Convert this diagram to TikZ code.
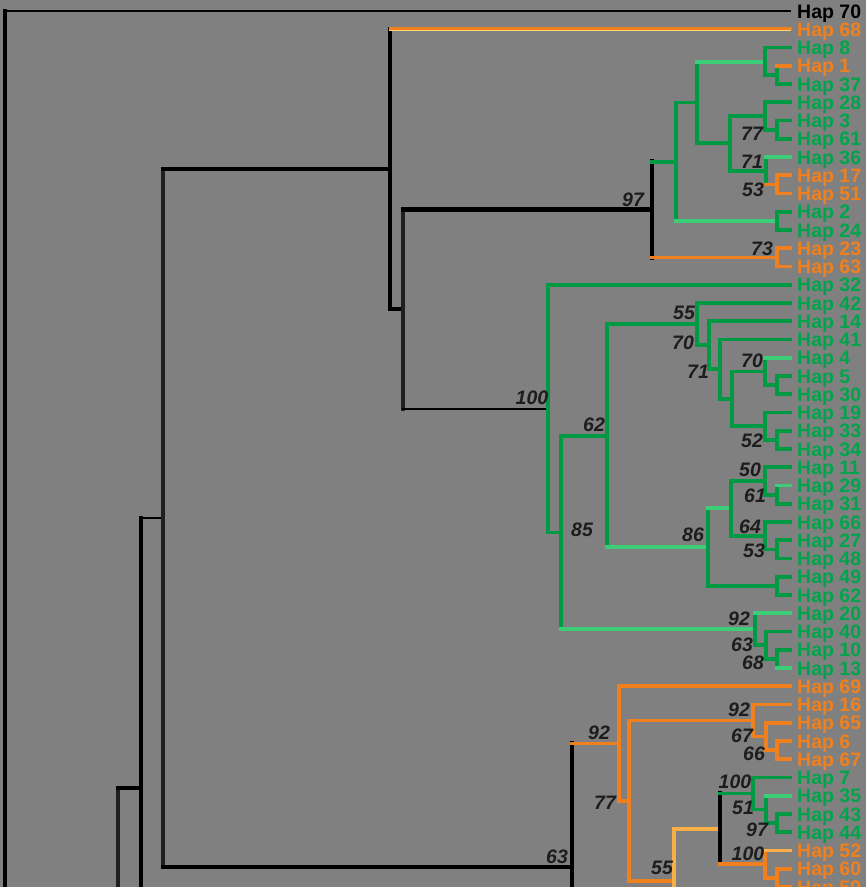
\documentclass[tikz,border=0pt]{standalone}
\usepackage{fontspec}
\setmainfont{Liberation Sans}
\definecolor{bg}{RGB}{128,128,128}
\definecolor{gr}{RGB}{0,154,68}
\definecolor{lgr}{RGB}{60,205,120}
\definecolor{grt}{RGB}{0,165,75}
\definecolor{orn}{RGB}{240,128,30}
\definecolor{lorn}{RGB}{250,175,70}
\definecolor{ylw}{RGB}{255,215,110}
\definecolor{bs}{RGB}{30,28,28}
\newcommand\hbr[3]{\draw[#3] (#1 |- #2) -- (#2);}
\newcommand\vbr[4]{\draw[#4] (#1 |- #2) -- (#1 |- #3);}
\begin{document}
\begin{tikzpicture}[x=1pt,y=-1pt,
  line cap=rect,
  blk/.style={draw=black,line width=4.5pt},
  bthin/.style={draw=black,line width=2.2pt},
  bmid/.style={draw=black!88,line width=4.2pt},
  g/.style={draw=gr,line width=3.8pt},
  lg/.style={draw=lgr,line width=3.8pt},
  o/.style={draw=orn,line width=3.8pt},
  lo/.style={draw=lorn,line width=3.8pt},
  hap/.style={anchor=base west,inner sep=0pt,font=\fontsize{19.5}{19.5}\selectfont\bfseries},
  bsl/.style={inner sep=0pt,text=bs,font=\fontsize{19.5}{19.5}\selectfont\bfseries\itshape}]
\fill[bg] (0,0) rectangle (866,887);
\useasboundingbox (0,0) rectangle (866,887);
\clip (0,0) rectangle (866,887);
\coordinate (bot) at (0,1000);
% leaves
\foreach \i/\t/\c in {0/70/black,1/68/orn,2/8/grt,3/1/orn,4/37/grt,5/28/grt,6/3/grt,7/61/grt,8/36/grt,9/17/orn,10/51/orn,11/2/grt,12/24/grt,13/23/orn,14/63/orn,15/32/grt,16/42/grt,17/14/grt,18/41/grt,19/4/grt,20/5/grt,21/30/grt,22/19/grt,23/33/grt,24/34/grt,25/11/grt,26/29/grt,27/31/grt,28/66/grt,29/27/grt,30/48/grt,31/49/grt,32/62/grt,33/20/grt,34/40/grt,35/10/grt,36/13/grt,37/69/orn,38/16/orn,39/65/orn,40/6/orn,41/67/orn,42/7/grt,43/35/grt,44/43/grt,45/44/grt,46/52/orn,47/60/orn,48/59/orn}{
  \coordinate (L\i) at (790,{11+18.25*\i});
  \node[hap,text=\c] (T\i) at (797,{18+18.25*\i}) {Hap \t};
}
% internal nodes
\coordinate (root) at (5,11);
\coordinate (n118) at (118,788);
\coordinate (n141) at (141,788);
\coordinate (n163) at (163,518);
\coordinate (n390) at (390,169.1);
\coordinate (n403) at (403,309);
\coordinate (n652) at (652,209.5);
\coordinate (n676) at (676,161.7);
\coordinate (n697) at (697,102.5);
\coordinate (a2) at (765,61.6);
\coordinate (b1) at (777,75.1);
\coordinate (n730) at (730,143.3);
\coordinate (a3) at (765,115.9);
\coordinate (b2) at (777,129.6);
\coordinate (a4) at (766,170.7);
\coordinate (b3) at (777,184.4);
\coordinate (b4) at (777,220.9);
\coordinate (b5) at (777,257.4);
\coordinate (n548) at (548,408.6);
\coordinate (n561) at (561,532.4);
\coordinate (n607) at (607,435.6);
\coordinate (n697b) at (697,324.1);
\coordinate (n709) at (709,345.2);
\coordinate (n720) at (720,369.2);
\coordinate (n732) at (732,398.8);
\coordinate (a5) at (765,371.4);
\coordinate (b6) at (777,385.1);
\coordinate (a6) at (765,426.2);
\coordinate (b7) at (777,439.9);
\coordinate (n708) at (708,547.1);
\coordinate (n731) at (731,508.3);
\coordinate (a7) at (765,480.9);
\coordinate (b8) at (777,494.6);
\coordinate (a8) at (765,535.7);
\coordinate (b9) at (777,549.4);
\coordinate (b10) at (777,585.9);
\coordinate (n755) at (755,629.2);
\coordinate (a9) at (766,645.2);
\coordinate (b11) at (777,658.9);
\coordinate (n572) at (572,867);
\coordinate (n619) at (619,743.5);
\coordinate (n629) at (629,800.7);
\coordinate (n753) at (753,720.5);
\coordinate (a10) at (766,736.4);
\coordinate (b12) at (777,750.1);
\coordinate (n674) at (674,880.9);
\coordinate (n720b) at (720,828.8);
\coordinate (n753b) at (753,793.5);
\coordinate (a11) at (766,809.4);
\coordinate (b13) at (777,823.1);
\coordinate (a12) at (765,864.2);
\coordinate (b14) at (777,877.9);
% root part
\hbr{root}{L0}{bthin}
\vbr{root}{root}{bot}{blk}
\vbr{n118}{n118}{bot}{bmid}
\draw[blk] (n118) -- (n141);
\vbr{n141}{n163}{bot}{blk}
\hbr{n141}{n163}{bthin}
\vbr{n163}{n390}{n572}{bmid}
\hbr{n163}{n390}{blk}
\hbr{n163}{n572}{blk}
\vbr{n390}{L1}{n403}{blk}
\draw[ylw,line width=1.6pt] ([yshift=-1.4pt]n390 |- L1) -- ([yshift=-1.4pt]L1);
\draw[orn,line width=3pt] ([yshift=0.8pt]n390 |- L1) -- ([yshift=0.8pt]L1);
\hbr{n390}{n403}{blk}
\vbr{n403}{n652}{n548}{bmid}
\hbr{n403}{n652}{blk}
\hbr{n403}{n548}{bthin}
% upper clade
\vbr{n652}{n676}{b5}{blk}
\hbr{n652}{n676}{g}
\hbr{n652}{b5}{o}
\vbr{n676}{n697}{b4}{g}
\hbr{n676}{n697}{g}
\hbr{n676}{b4}{lg}
\vbr{n697}{a2}{n730}{g}
\hbr{n697}{a2}{lg}
\hbr{n697}{n730}{g}
\vbr{a2}{L2}{b1}{g}
\hbr{a2}{L2}{g}
\hbr{a2}{b1}{g}
\vbr{b1}{L3}{L4}{g}
\hbr{b1}{L3}{o}
\hbr{b1}{L4}{g}
\vbr{n730}{a3}{a4}{g}
\hbr{n730}{a3}{g}
\hbr{n730}{a4}{g}
\vbr{a3}{L5}{b2}{g}
\hbr{a3}{L5}{g}
\hbr{a3}{b2}{g}
\vbr{b2}{L6}{L7}{g}
\hbr{b2}{L6}{g}
\hbr{b2}{L7}{g}
\vbr{a4}{L8}{b3}{g}
\hbr{a4}{L8}{lg}
\hbr{a4}{b3}{o}
\vbr{b3}{L9}{L10}{o}
\hbr{b3}{L9}{o}
\hbr{b3}{L10}{o}
\vbr{b4}{L11}{L12}{g}
\hbr{b4}{L11}{g}
\hbr{b4}{L12}{g}
\vbr{b5}{L13}{L14}{o}
\hbr{b5}{L13}{o}
\hbr{b5}{L14}{o}
% green clade
\vbr{n548}{L15}{n561}{g}
\hbr{n548}{L15}{g}
\hbr{n548}{n561}{g}
\vbr{n561}{n607}{n755}{g}
\hbr{n561}{n607}{g}
\hbr{n561}{n755}{lg}
\vbr{n607}{n697b}{n708}{g}
\hbr{n607}{n697b}{g}
\hbr{n607}{n708}{lg}
\vbr{n697b}{L16}{n709}{g}
\hbr{n697b}{L16}{g}
\hbr{n697b}{n709}{g}
\vbr{n709}{L17}{n720}{g}
\hbr{n709}{L17}{g}
\hbr{n709}{n720}{g}
\vbr{n720}{L18}{n732}{g}
\hbr{n720}{L18}{g}
\hbr{n720}{n732}{g}
\vbr{n732}{a5}{a6}{g}
\hbr{n732}{a5}{g}
\hbr{n732}{a6}{g}
\vbr{a5}{L19}{b6}{g}
\hbr{a5}{L19}{lg}
\hbr{a5}{b6}{g}
\vbr{b6}{L20}{L21}{g}
\hbr{b6}{L20}{g}
\hbr{b6}{L21}{g}
\vbr{a6}{L22}{b7}{g}
\hbr{a6}{L22}{g}
\hbr{a6}{b7}{g}
\vbr{b7}{L23}{L24}{g}
\hbr{b7}{L23}{g}
\hbr{b7}{L24}{g}
\vbr{n708}{n731}{b10}{g}
\hbr{n708}{n731}{lg}
\hbr{n708}{b10}{g}
\vbr{n731}{a7}{a8}{g}
\hbr{n731}{a7}{g}
\hbr{n731}{a8}{g}
\vbr{a7}{L25}{b8}{g}
\hbr{a7}{L25}{g}
\hbr{a7}{b8}{g}
\vbr{b8}{L26}{L27}{g}
\hbr{b8}{L26}{lg}
\hbr{b8}{L27}{g}
\vbr{a8}{L28}{b9}{g}
\hbr{a8}{L28}{g}
\hbr{a8}{b9}{g}
\vbr{b9}{L29}{L30}{g}
\hbr{b9}{L29}{g}
\hbr{b9}{L30}{g}
\vbr{b10}{L31}{L32}{g}
\hbr{b10}{L31}{g}
\hbr{b10}{L32}{g}
\vbr{n755}{L33}{a9}{g}
\hbr{n755}{L33}{lg}
\hbr{n755}{a9}{g}
\vbr{a9}{L34}{b11}{g}
\hbr{a9}{L34}{g}
\hbr{a9}{b11}{g}
\vbr{b11}{L35}{L36}{g}
\hbr{b11}{L35}{g}
\hbr{b11}{L36}{lg}
% bottom clade
\vbr{n572}{n619}{bot}{blk}
\hbr{n572}{n619}{o}
\vbr{n619}{L37}{n629}{o}
\hbr{n619}{L37}{o}
\hbr{n619}{n629}{o}
\vbr{n629}{n753}{n674}{o}
\hbr{n629}{n753}{o}
\hbr{n629}{n674}{o}
\vbr{n753}{L38}{a10}{o}
\hbr{n753}{L38}{o}
\hbr{n753}{a10}{o}
\vbr{a10}{L39}{b12}{o}
\hbr{a10}{L39}{o}
\hbr{a10}{b12}{o}
\vbr{b12}{L40}{L41}{o}
\hbr{b12}{L40}{o}
\hbr{b12}{L41}{o}
\vbr{n674}{n720b}{bot}{lo}
\hbr{n674}{n720b}{lo}
\vbr{n720b}{n753b}{a12}{blk}
\hbr{n720b}{n753b}{g}
\hbr{n720b}{a12}{o}
\vbr{n753b}{L42}{a11}{g}
\hbr{n753b}{L42}{g}
\hbr{n753b}{a11}{g}
\vbr{a11}{L43}{b13}{g}
\hbr{a11}{L43}{lg}
\hbr{a11}{b13}{g}
\vbr{b13}{L44}{L45}{g}
\hbr{b13}{L44}{g}
\hbr{b13}{L45}{g}
\vbr{a12}{L46}{b14}{o}
\hbr{a12}{L46}{lo}
\hbr{a12}{b14}{o}
\vbr{b14}{L47}{L48}{o}
\hbr{b14}{L47}{o}
\hbr{b14}{L48}{o}
% bootstrap values
\node[bsl] (s1) at (752,134) {77};
\node[bsl] (s2) at (752,162) {71};
\node[bsl] (s3) at (753,190) {53};
\node[bsl] (s4) at (762,249) {73};
\node[bsl] (s5) at (633,200) {97};
\node[bsl] (s6) at (532,398) {100};
\node[bsl] (s7) at (684,313) {55};
\node[bsl] (s8) at (683,343) {70};
\node[bsl] (s9) at (698,372) {71};
\node[bsl] (s10) at (594,425) {62};
\node[bsl] (s11) at (582,530) {85};
\node[bsl] (s12) at (693,535) {86};
\node[bsl] (s13) at (752,361) {70};
\node[bsl] (s14) at (752,441) {52};
\node[bsl] (s15) at (750,470) {50};
\node[bsl] (s16) at (755,496) {61};
\node[bsl] (s17) at (750,527) {64};
\node[bsl] (s18) at (754,551) {53};
\node[bsl] (s19) at (739,619) {92};
\node[bsl] (s20) at (742,645) {63};
\node[bsl] (s21) at (753,663) {68};
\node[bsl] (s22) at (739,710) {92};
\node[bsl] (s23) at (742,736) {67};
\node[bsl] (s24) at (754,754) {66};
\node[bsl] (s25) at (735,782) {100};
\node[bsl] (s26) at (743,808) {51};
\node[bsl] (s27) at (757,830) {97};
\node[bsl] (s28) at (748,854) {100};
\node[bsl] (s29) at (599,733) {92};
\node[bsl] (s30) at (605,803) {77};
\node[bsl] (s31) at (662,868) {55};
\node[bsl] (s32) at (557,857) {63};
\end{tikzpicture}
\end{document}
